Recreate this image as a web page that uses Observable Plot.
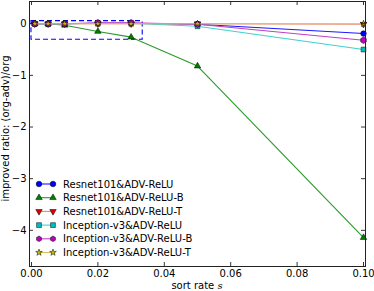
<!DOCTYPE html>
<html>
<head>
<meta charset="utf-8">
<script src="https://cdn.jsdelivr.net/npm/d3@7"></script>
<script src="https://cdn.jsdelivr.net/npm/@observablehq/plot@0.6"></script>
<style>
  html, body { margin: 0; padding: 0; background: #fff; }
  #chart { position: relative; width: 374px; height: 291px; font-family: "DejaVu Sans", sans-serif; }
</style>
</head>
<body>
<div id="chart"></div>
<script>
// ---- data ----
const sortRates = [0.001, 0.005, 0.01, 0.02, 0.03, 0.05, 0.1];
const seriesNames = [
  "Resnet101&ADV-ReLU",
  "Resnet101&ADV-ReLU-B",
  "Resnet101&ADV-ReLU-T",
  "Inception-v3&ADV-ReLU",
  "Inception-v3&ADV-ReLU-B",
  "Inception-v3&ADV-ReLU-T"
];
const resnetReLU     = [0, 0, 0, 0.01, 0.01, -0.01, -0.19];
const resnetReLUB    = [0, 0, -0.03, -0.15, -0.26, -0.82, -4.14];
const resnetReLUT    = [0, 0, 0, 0, 0, 0, -0.01];
const inceptionReLU  = [0, -0.01, 0, 0.01, 0.01, -0.05, -0.5];
const inceptionReLUB = [0, 0, 0, 0.02, 0.02, -0.01, -0.32];
const inceptionReLUT = [0, 0, 0, 0, 0, 0, 0];
const xTicks = [0, 0.02, 0.04, 0.06, 0.08, 0.1];
const yTicks = [-4, -3, -2, -1, 0];
const zoomBox = [{x1: 0, x2: 0.0335, y1: -0.31, y2: 0.05}];

// ---- styles ----
const seriesValues = [resnetReLU, resnetReLUB, resnetReLUT, inceptionReLU, inceptionReLUB, inceptionReLUT];
const lineColors = ["#1a1aff", "#2a9a2a", "#f28080", "#40d0d0", "#c040c0", "#d8c060"];
const markColors = ["#0000ff", "#008000", "#dd0000", "#00bfbf", "#bf00bf", "#bfbf00"];
const symbols = ["circle", "triangle", "triangle", "square", "hexagon", "star"];
const rotates = [0, 0, 180, 0, 0, 0];
const sizes = [2.8, 2.4, 2.4, 2.7, 2.8, 2.1];

const data = [];
seriesNames.forEach((name, i) => {
  sortRates.forEach((x, j) => data.push({series: name, idx: i, x, y: seriesValues[i][j]}));
});

const W = 374, H = 291;
const mL = 29, mR = 9, mT = 1, mB = 25;
const fw = W - mL - mR, fh = H - mT - mB;

const marks = [];
seriesNames.forEach((name, i) => {
  const d = data.filter(p => p.idx === i);
  marks.push(Plot.line(d, {x: "x", y: "y", stroke: lineColors[i], strokeWidth: 1.1}));
  marks.push(Plot.dot(d, {x: "x", y: "y", symbol: symbols[i], rotate: rotates[i], r: sizes[i],
    fill: markColors[i], stroke: "#000", strokeWidth: 0.5}));
});

const yFmt = d => d === 0 ? "0" : (d < 0 ? "\u2212" : "") + Math.abs(d);

const chart = Plot.plot({
  width: W, height: H,
  marginLeft: mL, marginRight: mR, marginTop: mT, marginBottom: mB,
  style: {fontFamily: "DejaVu Sans, sans-serif", fontSize: "10px", background: "#fff", color: "#000"},
  x: {domain: [-0.0006, 0.1006]},
  y: {domain: [-4.7, 0.43]},
  marks: [
    Plot.rect(zoomBox, {x1: "x1", x2: "x2", y1: "y1", y2: "y2", fill: "none", stroke: "#0000ff",
      strokeWidth: 1.1, strokeDasharray: "5,3"}),
    ...marks,
    // inward ticks
    Plot.ruleX(xTicks, {x: d => d, insetTop: fh - 4, stroke: "#000", strokeWidth: 0.8}),
    Plot.ruleX(xTicks, {x: d => d, insetBottom: fh - 4, stroke: "#000", strokeWidth: 0.8}),
    Plot.ruleY(yTicks, {y: d => d, insetRight: fw - 4, stroke: "#000", strokeWidth: 0.8}),
    Plot.ruleY(yTicks, {y: d => d, insetLeft: fw - 4, stroke: "#000", strokeWidth: 0.8}),
    Plot.axisX({ticks: xTicks, tickSize: 0, tickPadding: 3, tickFormat: d3.format(".2f"), label: null}),
    Plot.axisY({ticks: yTicks, tickSize: 0, tickPadding: 3, tickFormat: yFmt, label: null}),
    Plot.frame({stroke: "#222", strokeWidth: 1})
  ]
});

document.getElementById("chart").appendChild(chart);

const svg = d3.select(chart);
// axis labels
const xl = svg.append("text")
  .attr("x", mL + fw / 2).attr("y", 289)
  .attr("text-anchor", "middle")
  .attr("font-size", 10).attr("fill", "#000");
xl.append("tspan").text("sort rate ");
xl.append("tspan").attr("font-style", "italic").attr("font-family", "DejaVu Serif, serif").text("s");

svg.append("text")
  .attr("transform", `translate(8.5,${mT + fh / 2 - 5}) rotate(-90)`)
  .attr("text-anchor", "middle")
  .attr("font-size", 10).attr("fill", "#000")
  .text("improved ratio: (org-adv)/org");

// legend
const legendTop = 184, legendStep = 13.7;
seriesNames.forEach((name, i) => {
  const yy = legendTop + i * legendStep;
  const g = svg.append("g");
  g.append("line").attr("x1", 39).attr("x2", 53).attr("y1", yy).attr("y2", yy)
    .attr("stroke", lineColors[i]).attr("stroke-width", 1.1);
  const sym = {circle: d3.symbolCircle, triangle: d3.symbolTriangle, square: d3.symbolSquare,
    star: d3.symbolStar}[symbols[i]];
  [39, 53].forEach(cx => {
    let path;
    if (symbols[i] === "hexagon") {
      const r = sizes[i];
      const pts = d3.range(6).map(k => [r * Math.sin(k * Math.PI / 3), r * Math.cos(k * Math.PI / 3)]);
      path = "M" + pts.join("L") + "Z";
    } else {
      path = d3.symbol(sym, Math.PI * sizes[i] * sizes[i])();
    }
    g.append("path").attr("d", path)
      .attr("transform", `translate(${cx},${yy}) rotate(${rotates[i]})`)
      .attr("fill", markColors[i]).attr("stroke", "#000").attr("stroke-width", 0.5);
  });
  g.append("text").attr("x", 63).attr("y", yy).attr("dy", "0.35em")
    .attr("text-anchor", "start")
    .attr("font-size", 10).attr("fill", "#000").text(name);
});
</script>
</body>
</html>
